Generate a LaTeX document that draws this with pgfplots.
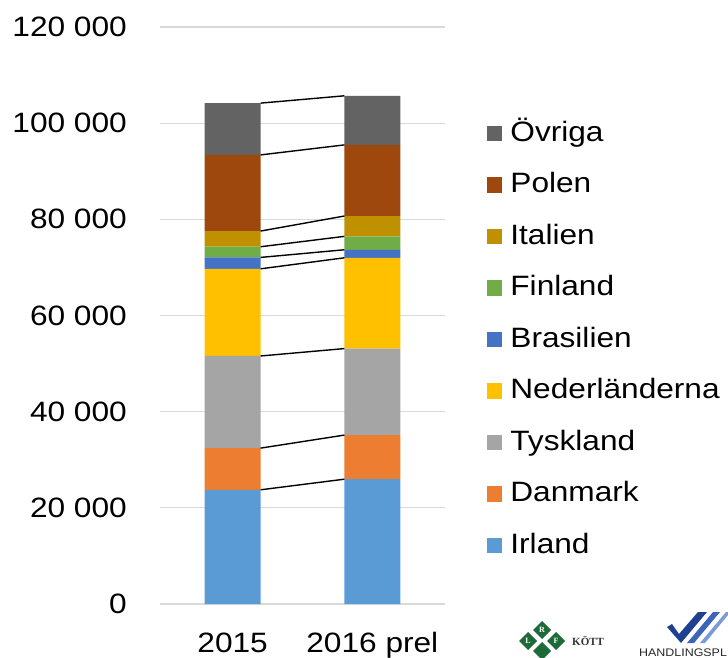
\documentclass[border=0pt]{standalone}
\usepackage{fontspec}
\setmainfont[FakeStretch=1.13]{Liberation Sans}
\newfontfamily\logoserif{Liberation Serif}
\usepackage{pgfplots}
\pgfplotsset{compat=1.18}
\usepackage{pgfplotstable}

\definecolor{cIrl}{HTML}{5B9BD5}
\definecolor{cDan}{HTML}{ED7D31}
\definecolor{cTys}{HTML}{A5A5A5}
\definecolor{cNed}{HTML}{FFC000}
\definecolor{cBra}{HTML}{4472C4}
\definecolor{cFin}{HTML}{70AD47}
\definecolor{cIta}{HTML}{BF9000}
\definecolor{cPol}{HTML}{9E480E}
\definecolor{cOvr}{HTML}{636363}
\definecolor{gridc}{HTML}{D9D9D9}

\newcommand{\chartfont}{\fontsize{28}{32}\selectfont}

% import volumes per country (ton), 2015 and 2016 prel
\pgfplotstableread{
x Irland Danmark Tyskland Nederlanderna Brasilien Finland Italien Polen Ovriga
0 23750 8670 19160 18130 2370 2220 3260 15840 10770
1 25960 9170 17990 18880 1670 2790 4230 14790 10210
}\imports

\begin{document}
\begin{tikzpicture}[x=1pt,y=1pt]
\useasboundingbox (0pt,0pt) rectangle (728pt,657pt);
\begin{axis}[
  at={(160pt,53pt)}, anchor=south west,
  width=285pt, height=577pt, scale only axis,
  ybar stacked, bar width=0.4,
  xmin=-0.52, xmax=1.52, ymin=0, ymax=120000,
  xtick={0,1}, xticklabels={2015, 2016 prel},
  ytick={0,20000,40000,60000,80000,100000,120000},
  yticklabels={0, 20 000, 40 000, 60 000, 80 000, 100 000, 120 000},
  scaled y ticks=false,
  axis line style={draw=none},
  major tick length=0pt,
  ymajorgrids,
  grid style={gridc, line width=1.3pt},
  tick label style={font=\chartfont, inner sep=0pt},
  yticklabel style={anchor=east, xshift=-33pt},
  xticklabel style={anchor=base, yshift=-48pt},
  reverse legend,
  legend image code/.code={%
    \fill[#1, draw=none] (0pt,0pt) rectangle (15.5pt,15.5pt);
    \path (23.5pt,0pt);},
  legend style={at={(1.147,0.837)}, anchor=north west, draw=none, fill=none,
    inner sep=0pt, outer sep=0pt, row sep=25.5pt, font=\chartfont,
    nodes={inner sep=0pt, text height=20pt, text depth=6pt, anchor=base west}},
  legend cell align=left,
]
\addplot[fill=cIrl, draw=none] table[x=x, y=Irland]{\imports};
\addlegendentry{Irland}
\addplot[fill=cDan, draw=none] table[x=x, y=Danmark]{\imports};
\addlegendentry{Danmark}
\addplot[fill=cTys, draw=none] table[x=x, y=Tyskland]{\imports};
\addlegendentry{Tyskland}
\addplot[fill=cNed, draw=none] table[x=x, y=Nederlanderna]{\imports};
\addlegendentry{Nederländerna}
\addplot[fill=cBra, draw=none] table[x=x, y=Brasilien]{\imports};
\addlegendentry{Brasilien}
\addplot[fill=cFin, draw=none] table[x=x, y=Finland]{\imports};
\addlegendentry{Finland}
\addplot[fill=cIta, draw=none] table[x=x, y=Italien]{\imports};
\addlegendentry{Italien}
\addplot[fill=cPol, draw=none] table[x=x, y=Polen]{\imports};
\addlegendentry{Polen}
\addplot[fill=cOvr, draw=none] table[x=x, y=Ovriga]{\imports};
\addlegendentry{Övriga}
\end{axis}

% series lines between the bars
\begin{axis}[
  at={(160pt,53pt)}, anchor=south west,
  width=285pt, height=577pt, scale only axis,
  xmin=-0.52, xmax=1.52, ymin=0, ymax=120000,
  hide axis, stack plots=y,
]
\foreach \s in {Irland,Danmark,Tyskland,Nederlanderna,Brasilien,Finland,Italien,Polen,Ovriga}{
  \addplot[black, line width=1.4pt, no marks]
    table[x expr=0.2+0.6*\thisrow{x}, y=\s]{\imports};
}
\end{axis}

% logos (approximation)
\begin{scope}[shift={(0pt,657pt)}, yscale=-1]
  \definecolor{lrfg}{HTML}{1E6B3A}
  \foreach \cx/\cy/\t in {542/630/R, 528/641/L, 556/641/F, 542/651/{}}{
    \fill[lrfg] (\cx-9,\cy) -- (\cx,\cy-9) -- (\cx+9,\cy) -- (\cx,\cy+9) -- cycle;
    \node[white, font=\logoserif\fontsize{8}{8}\selectfont\bfseries] at (\cx,\cy) {\t};
  }
  \node[anchor=west, inner sep=0pt, font=\logoserif\fontsize{11}{11}\selectfont\bfseries, text=black!80]
    at (572,641) {KÖTT};
  \definecolor{hpa}{HTML}{1F3F8F}
  \definecolor{hpb}{HTML}{3D64B8}
  \definecolor{hpc}{HTML}{7A9AD8}
  \fill[hpa] (667,627) -- (672,624) -- (679,634) -- (698,612) -- (707,612) -- (681,643) -- cycle;
  \fill[hpb] (687,643) -- (713,612) -- (720,612) -- (694,643) -- cycle;
  \fill[hpc] (700,643) -- (726,612) -- (728,612) -- (728,615) -- (705,643) -- cycle;
  \node[anchor=base west, font=\fontsize{11}{11}\selectfont, text=black!85, inner sep=0pt]
    at (639,656) {HANDLINGSPL};
\end{scope}
\end{tikzpicture}
\end{document}
